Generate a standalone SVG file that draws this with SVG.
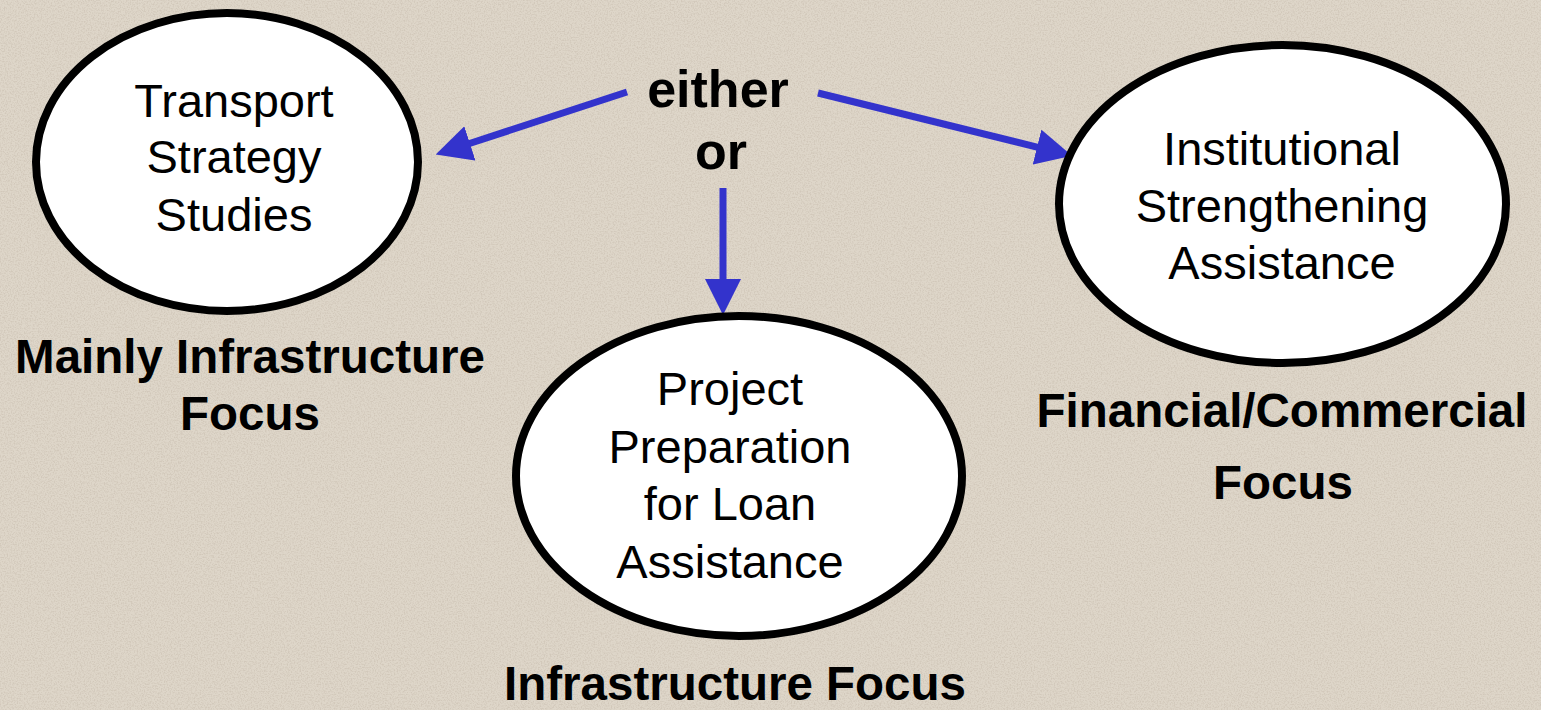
<svg xmlns="http://www.w3.org/2000/svg" width="1541" height="710" viewBox="0 0 1541 710">
  <defs>
    <style>
      .node { fill: #ffffff; stroke: #000000; stroke-width: 8; }
      .inner { font-family: "Liberation Sans", Arial, sans-serif; font-size: 47px; fill: #000; text-anchor: middle; }
      .label { font-family: "Liberation Sans", Arial, sans-serif; font-size: 47.5px; font-weight: bold; fill: #000; text-anchor: middle; }
      .conn { stroke: #3333cc; stroke-width: 7; fill: none; marker-end: url(#head); }
    </style>
    <marker id="head" markerUnits="userSpaceOnUse" viewBox="0 0 36 36" markerWidth="36" markerHeight="36" refX="2" refY="18" orient="auto">
      <path d="M0,0 L36,18 L0,36 z" fill="#3333cc"/>
    </marker>
    <filter id="speckle" x="0" y="0" width="100%" height="100%">
      <feTurbulence type="fractalNoise" baseFrequency="0.7" numOctaves="2" seed="3" result="n"/>
      <feColorMatrix in="n" type="matrix" values="0 0 0 0 0.55  0 0 0 0 0.48  0 0 0 0 0.40  0 0 0 -3 1.75"/>
    </filter>
  </defs>
  <rect x="0" y="0" width="1541" height="710" fill="#ded6c9"/>
  <rect x="0" y="0" width="1541" height="710" filter="url(#speckle)" opacity="0.45"/>

  <g id="connectors">
    <line class="conn" x1="627" y1="92" x2="468" y2="144"/>
    <line class="conn" x1="818" y1="93" x2="1039" y2="147.6"/>
    <line class="conn" x1="723" y1="188" x2="723" y2="281"/>
  </g>

  <g id="node-either-or">
    <text class="label" x="718" y="107" style="font-size:52px">either</text>
    <text class="label" x="721" y="169" style="font-size:52px">or</text>
  </g>

  <g id="node-transport">
    <ellipse class="node" cx="227" cy="162" rx="191" ry="149"/>
    <text class="inner" x="234" y="117">Transport</text>
    <text class="inner" x="234" y="173">Strategy</text>
    <text class="inner" x="234" y="231">Studies</text>
  </g>

  <g id="node-project">
    <ellipse class="node" cx="739" cy="476" rx="223" ry="160"/>
    <text class="inner" x="730" y="405">Project</text>
    <text class="inner" x="730" y="463">Preparation</text>
    <text class="inner" x="730" y="520">for Loan</text>
    <text class="inner" x="730" y="578">Assistance</text>
  </g>

  <g id="node-institutional">
    <ellipse class="node" cx="1282.5" cy="204" rx="223.5" ry="159"/>
    <text class="inner" x="1282" y="165">Institutional</text>
    <text class="inner" x="1282" y="222">Strengthening</text>
    <text class="inner" x="1282" y="279">Assistance</text>
  </g>

  <g id="label-mainly">
    <text class="label" x="250" y="373">Mainly Infrastructure</text>
    <text class="label" x="250" y="430">Focus</text>
  </g>

  <g id="label-financial">
    <text class="label" x="1282" y="427">Financial/Commercial</text>
    <text class="label" x="1283" y="499">Focus</text>
  </g>

  <g id="label-infrastructure">
    <text class="label" x="735" y="700">Infrastructure Focus</text>
  </g>
</svg>
